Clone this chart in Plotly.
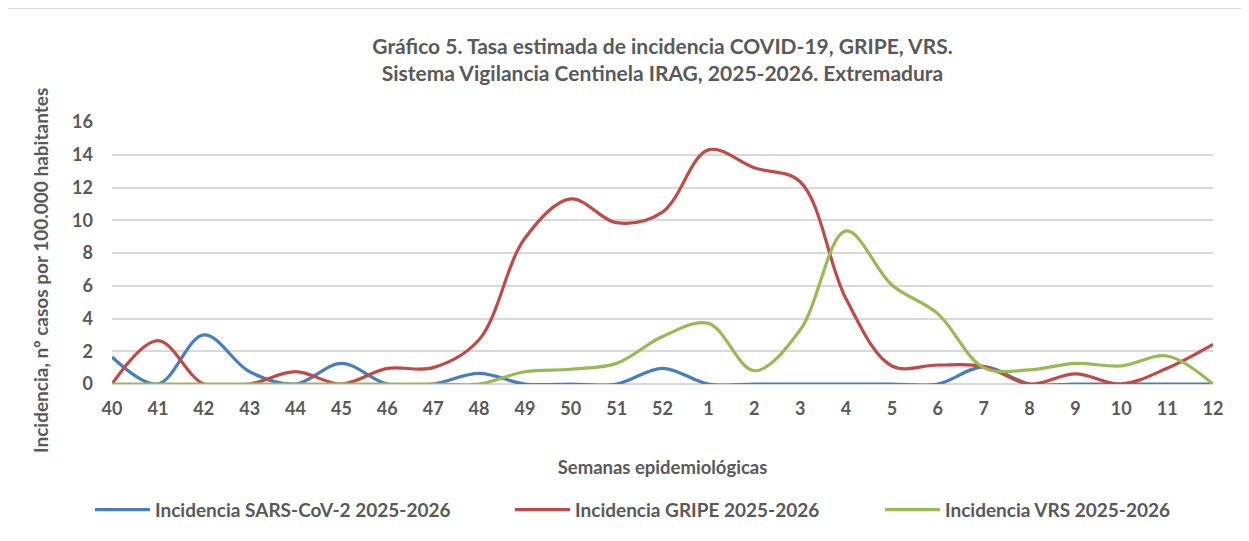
import plotly.graph_objects as go

semanas = ["40", "41", "42", "43", "44", "45", "46", "47", "48", "49", "50", "51", "52",
           "1", "2", "3", "4", "5", "6", "7", "8", "9", "10", "11", "12"]
sars = [1.65, 0, 3.0, 0.75, 0, 1.26, 0, 0, 0.65, 0, 0, 0, 0.96,
        0, 0, 0, 0, 0, 0, 1.05, 0, 0, 0, 0, 0]
gripe = [0, 2.65, 0, 0, 0.75, 0, 0.95, 1.0, 2.7, 8.9, 11.3, 9.85, 10.5,
         14.3, 13.2, 12.35, 5.2, 1.1, 1.16, 1.08, 0, 0.62, 0, 0.96, 2.42]
vrs = [0, 0, 0, 0, 0, 0, 0, 0, 0, 0.75, 0.9, 1.26, 2.9,
       3.7, 0.81, 3.3, 9.35, 6.05, 4.3, 1.0, 0.86, 1.26, 1.1, 1.71, 0]

series = [
    ("Incidencia SARS-CoV-2 2025-2026", sars, "#4A7EBB"),
    ("Incidencia GRIPE 2025-2026", gripe, "#BE4B48"),
    ("Incidencia VRS 2025-2026", vrs, "#98B954"),
]

FONT = "Lato, Liberation Sans, Arial"
GREY = "#595959"
idx = list(range(len(semanas)))
legend_ids = ["legend", "legend2", "legend3"]
legend_x = [-0.020, 0.3615, 0.6975]

fig = go.Figure()
for (name, vals, col), lid in zip(series, legend_ids):
    fig.add_trace(go.Scatter(
        x=idx, y=vals, name=f"<b>{name}</b>", mode="lines", legend=lid,
        line=dict(color=col, width=3.2, shape="spline", smoothing=1.0),
    ))

legend_common = dict(
    orientation="h", xanchor="left", y=-0.48, yanchor="middle",
    font=dict(size=19, family=FONT, color=GREY), itemwidth=55, bgcolor="rgba(0,0,0,0)",
)

fig.update_layout(
    width=1249, height=541,
    paper_bgcolor="white", plot_bgcolor="white",
    margin=dict(l=104, r=44, t=114, b=165),
    font=dict(family=FONT, color=GREY, size=17),
    title=dict(
        text="<b>Gráfico 5. Tasa estimada de incidencia COVID-19, GRIPE, VRS.<br>"
             "Sistema Vigilancia Centinela IRAG, 2025-2026. Extremadura</b>",
        x=0.5, xref="paper", xanchor="center", y=0.915, yanchor="middle",
        font=dict(size=21, family=FONT, color=GREY),
    ),
    xaxis=dict(
        range=[0, 24], tickmode="array", tickvals=idx, ticktext=[f"<b>{s}</b>" for s in semanas],
        showgrid=False, zeroline=False, showline=False, ticks="", ticklabelstandoff=12,
        tickfont=dict(size=18, family=FONT, color=GREY),
        title=dict(text="<b>Semanas epidemiológicas</b>", font=dict(size=18.5, family=FONT, color=GREY),
                   standoff=43),
    ),
    yaxis=dict(
        range=[0, 16], dtick=2, showgrid=True, gridcolor="#D9D9D9", gridwidth=1.5,
        zeroline=True, zerolinecolor="#D9D9D9", zerolinewidth=1.5,
        showline=False, ticks="", ticklabelstandoff=18,
        tickfont=dict(size=18, family=FONT, color=GREY),
        tickprefix="<b>", ticksuffix="</b>",
    ),
    legend=dict(x=legend_x[0], **legend_common),
    legend2=dict(x=legend_x[1], **legend_common),
    legend3=dict(x=legend_x[2], **legend_common),
    showlegend=True,
)

fig.add_annotation(
    text="<b>Incidencia, nº casos por 100.000 habitantes</b>",
    xref="paper", yref="paper", x=-0.0654, y=0.435, xanchor="center", yanchor="middle",
    textangle=-90, showarrow=False, font=dict(size=19, family=FONT, color=GREY),
)

fig.add_shape(type="line", xref="paper", yref="paper", x0=-0.1, x1=1.06, y0=1.435, y1=1.435,
              line=dict(color="#D9D9D9", width=2))

fig.write_html("out.html")
